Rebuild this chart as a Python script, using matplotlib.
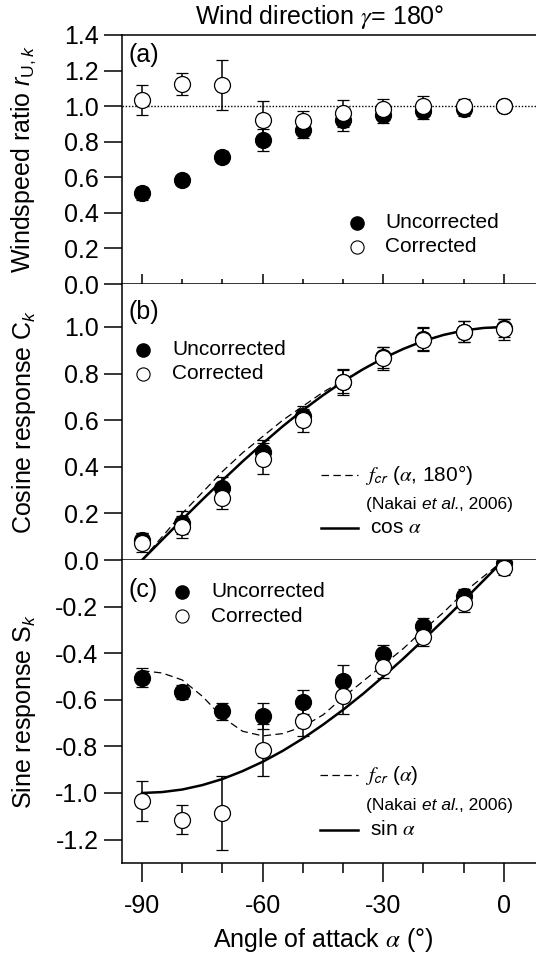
import matplotlib
matplotlib.use("Agg")
import matplotlib.pyplot as plt

plt.rcParams['font.family'] = ['Liberation Sans', 'DejaVu Sans']
plt.rcParams['mathtext.fontset'] = 'custom'
plt.rcParams['mathtext.rm'] = 'Liberation Sans'
plt.rcParams['mathtext.it'] = 'Liberation Sans:italic'
plt.rcParams['mathtext.bf'] = 'Liberation Sans:bold'
plt.rcParams['mathtext.sf'] = 'Liberation Sans'

# measured angles
alpha = [-90, -80, -70, -60, -50, -40, -30, -20, -10, 0]

# (a) windspeed ratio
ratio_unc = [0.51, 0.585, 0.715, 0.81, 0.865, 0.92, 0.95, 0.975, 0.985, 1.0]
ratio_unc_err = [0.035, 0.03, 0.03, 0.06, 0.045, 0.06, 0.045, 0.045, 0.04, 0.02]
ratio_cor = [1.035, 1.125, 1.12, 0.92, 0.915, 0.96, 0.985, 1.0, 1.0, 1.0]
ratio_cor_err = [0.085, 0.063, 0.14, 0.11, 0.055, 0.075, 0.055, 0.055, 0.04, 0.025]

# (b) cosine response
cos_unc = [0.085, 0.16, 0.31, 0.465, 0.62, 0.765, 0.87, 0.95, 0.98, 0.995]
cos_unc_err = [0.03, 0.05, 0.047, 0.05, 0.04, 0.05, 0.045, 0.05, 0.045, 0.04]
cos_cor = [0.075, 0.14, 0.265, 0.435, 0.60, 0.765, 0.865, 0.945, 0.98, 0.99]
cos_cor_err = [0.04, 0.047, 0.045, 0.065, 0.05, 0.055, 0.05, 0.05, 0.045, 0.045]

# (c) sine response
sin_unc = [-0.505, -0.565, -0.65, -0.67, -0.61, -0.52, -0.405, -0.285, -0.155, -0.015]
sin_unc_err = [0.04, 0.03, 0.035, 0.055, 0.05, 0.07, 0.04, 0.035, 0.03, 0.025]
sin_cor = [-1.035, -1.115, -1.085, -0.815, -0.69, -0.585, -0.46, -0.33, -0.185, -0.035]
sin_cor_err = [0.087, 0.062, 0.158, 0.11, 0.065, 0.078, 0.045, 0.04, 0.04, 0.03]

# reference curves, read every 5 deg
curve_alpha = [-90, -85, -80, -75, -70, -65, -60, -55, -50, -45,
               -40, -35, -30, -25, -20, -15, -10, -5, 0]
cos_ref = [0.0, 0.087, 0.174, 0.259, 0.342, 0.423, 0.5, 0.574, 0.643, 0.707,
           0.766, 0.819, 0.866, 0.906, 0.94, 0.966, 0.985, 0.996, 1.0]
fcr_cos = [0.0, 0.10, 0.20, 0.29, 0.38, 0.46, 0.53, 0.60, 0.66, 0.72,
           0.77, 0.82, 0.866, 0.906, 0.94, 0.966, 0.985, 0.996, 1.0]
sin_ref = [-1.0, -0.996, -0.985, -0.966, -0.94, -0.906, -0.866, -0.819, -0.766, -0.707,
           -0.643, -0.574, -0.5, -0.423, -0.342, -0.259, -0.174, -0.087, 0.0]
fcr_sin = [-0.475, -0.485, -0.515, -0.585, -0.675, -0.735, -0.755, -0.745, -0.715, -0.665,
           -0.59, -0.52, -0.45, -0.38, -0.30, -0.225, -0.14, -0.07, 0.0]

W, H = 536, 960
fig = plt.figure(figsize=(W / 100, H / 100), dpi=100)

left = 122 / W
ax_a = fig.add_axes([left, 1 - 284 / H, 1 - left, 249 / H])
ax_b = fig.add_axes([left, 1 - 560 / H, 1 - left, 276 / H])
ax_c = fig.add_axes([left, 1 - 863 / H, 1 - left, 303 / H])

lw = 1.1
fs = 18

for ax in (ax_a, ax_b, ax_c):
    ax.set_xlim(-95, 8)
    ax.spines['right'].set_visible(False)
    for s in ax.spines.values():
        s.set_linewidth(lw)
    ax.tick_params(axis='y', direction='out', length=13, width=lw, pad=4, labelsize=fs)
    ax.set_xticks([-90, -60, -30, 0])
    ax.set_xticks([-80, -70, -50, -40, -20, -10], minor=True)

ax_a.set_ylim(0, 1.4)
ax_a.set_yticks([0, 0.2, 0.4, 0.6, 0.8, 1.0, 1.2, 1.4])
ax_a.tick_params(axis='x', which='major', direction='inout', length=14.5, width=lw, labelbottom=False)
ax_a.tick_params(axis='x', which='minor', direction='inout', length=7.5, width=lw)

ax_b.set_ylim(0, 276 / 233)
ax_b.set_yticks([0, 0.2, 0.4, 0.6, 0.8, 1.0])
ax_b.spines['top'].set_visible(False)
ax_b.tick_params(axis='x', which='both', length=0, labelbottom=False)

ax_c.set_ylim(-303 / 233, 0)
ax_c.set_yticks([-0.2, -0.4, -0.6, -0.8, -1.0, -1.2])
ax_c.spines['top'].set_visible(False)
ax_c.tick_params(axis='x', which='major', direction='out', length=13.5, width=lw, pad=9, labelsize=fs)
ax_c.tick_params(axis='x', which='minor', direction='out', length=7, width=lw)
ax_c.set_xticklabels(['-90', '-60', '-30', '0'])

for ax in (ax_a, ax_b):
    ax.yaxis.set_major_formatter(matplotlib.ticker.FormatStrFormatter('%.1f'))
ax_c.set_yticklabels(['-0.2', '-0.4', '-0.6', '-0.8', '-1.0', '-1.2'])

ms = 11.5
kw = dict(fmt='o', ms=ms, mew=0.9, mec='k', ecolor='k', elinewidth=lw,
          capsize=4.5, capthick=lw)


def points(ax, unc, unc_err, cor, cor_err):
    ax.errorbar(alpha, unc, yerr=unc_err, mfc='k', zorder=3, **kw)
    ax.errorbar(alpha, cor, yerr=cor_err, mfc='white', zorder=4, **kw)


# (a)
ax_a.axhline(1.0, color='k', lw=1.0, ls=(0, (1, 1.3)), zorder=1)
points(ax_a, ratio_unc, ratio_unc_err, ratio_cor, ratio_cor_err)

# (b)
ax_b.plot(curve_alpha, fcr_cos, color='k', lw=0.9, ls=(0, (6, 3.5)), zorder=2)
ax_b.plot(curve_alpha, cos_ref, color='k', lw=1.8, zorder=2)
points(ax_b, cos_unc, cos_unc_err, cos_cor, cos_cor_err)

# (c)
ax_c.plot(curve_alpha, fcr_sin, color='k', lw=0.9, ls=(0, (6, 3.5)), zorder=2)
ax_c.plot(curve_alpha, sin_ref, color='k', lw=1.8, zorder=2)
points(ax_c, sin_unc, sin_unc_err, sin_cor, sin_cor_err)


def marker_key(ax, x, y1, y2, tx):
    ax.plot([x], [y1], 'o', ms=9.5, mfc='k', mec='k', transform=ax.transAxes, clip_on=False)
    ax.plot([x], [y2], 'o', ms=9.5, mfc='white', mec='k', mew=0.8, transform=ax.transAxes, clip_on=False)
    ax.text(tx, y1, 'Uncorrected', fontsize=15, va='center', transform=ax.transAxes)
    ax.text(tx, y2, 'Corrected', fontsize=15, va='center', transform=ax.transAxes)


def line_key(ax, x0, x1, ys, tx, fname, rname):
    ax.plot([x0, x1], [ys[0], ys[0]], color='k', lw=0.9, ls=(0, (6, 3.5)), transform=ax.transAxes)
    ax.plot([x0, x1], [ys[2], ys[2]], color='k', lw=1.8, transform=ax.transAxes)
    ax.text(tx, ys[0], fname, fontsize=15, va='center', transform=ax.transAxes,
            math_fontfamily='stix')
    t1 = ax.text(tx + 0.003, ys[1], '(Nakai\u00a0', fontsize=12.5, va='baseline',
                 transform=ax.transAxes)
    t2 = ax.annotate('et al.', xy=(1, 0), xycoords=t1, va='bottom', fontsize=12.5,
                     style='italic')
    ax.annotate(', 2006)', xy=(1, 0), xycoords=t2, va='bottom', fontsize=12.5)
    ax.text(tx + 0.012, ys[2], rname, fontsize=15, va='center', transform=ax.transAxes,
            math_fontfamily='stix')


marker_key(ax_a, 0.5676, 0.245, 0.1486, 0.635)
marker_key(ax_b, 0.0507, 0.761, 0.674, 0.1208)
marker_key(ax_c, 0.145, 0.895, 0.815, 0.215)

line_key(ax_b, 0.4807, 0.570, [0.308, 0.185, 0.116], 0.587,
         r'$f_{\mathsf{cr}}$ ($\alpha$, 180°)', r'cos $\alpha$')
line_key(ax_c, 0.478, 0.570, [0.290, 0.176, 0.109], 0.587,
         r'$f_{\mathsf{cr}}$ ($\alpha$)', r'sin $\alpha$')

ax_a.text(0.0145, 0.92, '(a)', fontsize=fs, va='center', transform=ax_a.transAxes)
ax_b.text(0.0145, 0.8986, '(b)', fontsize=fs, va='center', transform=ax_b.transAxes)
ax_c.text(0.0145, 0.901, '(c)', fontsize=fs, va='center', transform=ax_c.transAxes)

fig.text(24 / W, 1 - 159.5 / H, r'Windspeed ratio $r_{\mathrm{U},k}$', fontsize=fs,
         rotation=90, ha='center', va='center')
fig.text(24 / W, 1 - 422 / H, r'Cosine response $\mathrm{C}_k$', fontsize=fs,
         rotation=90, ha='center', va='center')
fig.text(24 / W, 1 - 711 / H, r'Sine response $\mathrm{S}_k$', fontsize=fs,
         rotation=90, ha='center', va='center')

fig.text(323 / W, 1 - 940 / H, r'Angle of attack $\alpha$ (°)', fontsize=fs,
         ha='center', va='center', math_fontfamily='stix')
fig.text(320 / W, 1 - 17 / H, r'Wind direction $\gamma$= 180°', fontsize=fs,
         ha='center', va='center', math_fontfamily='stix')

fig.savefig('out.png', dpi=100)
